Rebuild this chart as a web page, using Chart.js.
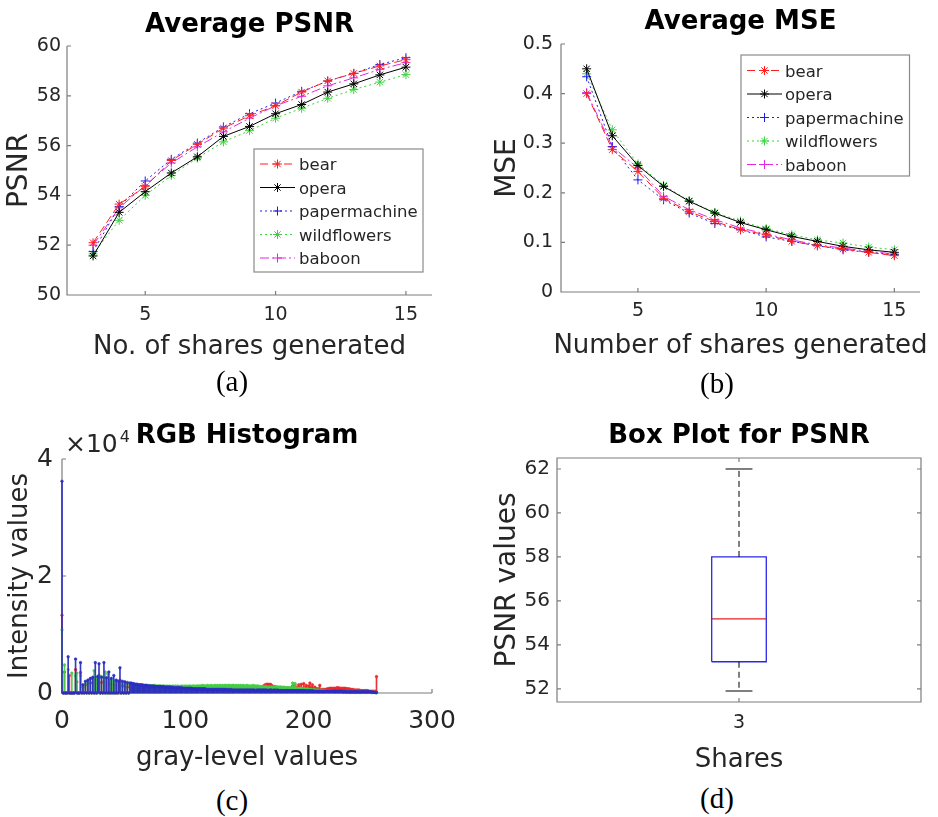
<!DOCTYPE html>
<html>
<head>
<meta charset="utf-8">
<script src="https://cdn.jsdelivr.net/npm/chart.js@4.4.1/dist/chart.umd.min.js"></script>
<style>
html,body{margin:0;padding:0;background:#fff;}
body{width:938px;height:817px;position:relative;overflow:hidden;}
canvas{position:absolute;}
.cap{position:absolute;font-family:'Liberation Serif','Times New Roman',serif;font-size:29px;color:#000;transform:translate(-50%,-50%);line-height:1;white-space:nowrap;}
</style>
</head>
<body>
<canvas id="chartA" width="469" height="372" style="left:0;top:0"></canvas>
<canvas id="chartB" width="469" height="372" style="left:469px;top:0"></canvas>
<canvas id="chartC" width="469" height="380" style="left:0;top:400px"></canvas>
<canvas id="chartD" width="469" height="380" style="left:469px;top:400px"></canvas>
<div class="cap" style="left:232px;top:381px">(a)</div>
<div class="cap" style="left:717px;top:383px">(b)</div>
<div class="cap" style="left:232px;top:800px">(c)</div>
<div class="cap" style="left:717px;top:798px">(d)</div>
<script>
// ---------------- data ----------------
const shares = [3, 4, 5, 6, 7, 8, 9, 10, 11, 12, 13, 14, 15];
const seriesNames = ['bear', 'opera', 'papermachine', 'wildflowers', 'baboon'];

const psnrBear    = [52.10, 53.65, 54.35, 55.40, 56.05, 56.70, 57.20, 57.60, 58.15, 58.60, 58.90, 59.20, 59.45];
const psnrOpera   = [51.57, 53.32, 54.15, 54.90, 55.55, 56.37, 56.77, 57.28, 57.65, 58.15, 58.48, 58.84, 59.15];
const psnrPaper   = [51.75, 53.55, 54.58, 55.45, 56.10, 56.75, 57.28, 57.71, 58.18, 58.59, 58.90, 59.26, 59.53];
const psnrWild    = [51.65, 53.00, 54.00, 54.80, 55.50, 56.15, 56.60, 57.10, 57.50, 57.90, 58.25, 58.55, 58.85];
const psnrBaboon  = [52.00, 53.50, 54.40, 55.30, 55.95, 56.55, 57.10, 57.60, 57.98, 58.40, 58.72, 59.06, 59.33];

const mseBear   = [0.400, 0.287, 0.243, 0.189, 0.162, 0.142, 0.1255, 0.1154, 0.102, 0.0933, 0.0866, 0.0799, 0.0732];
const mseOpera  = [0.450, 0.315, 0.255, 0.213, 0.183, 0.159, 0.140, 0.1255, 0.112, 0.102, 0.092, 0.085, 0.080];
const msePaper  = [0.434, 0.293, 0.226, 0.186, 0.159, 0.138, 0.1255, 0.111, 0.102, 0.0933, 0.085, 0.080, 0.075];
const mseWild   = [0.440, 0.327, 0.258, 0.215, 0.184, 0.160, 0.143, 0.1275, 0.1155, 0.105, 0.0987, 0.0906, 0.0852];
const mseBaboon = [0.402, 0.293, 0.250, 0.193, 0.166, 0.146, 0.129, 0.117, 0.105, 0.095, 0.0886, 0.082, 0.0765];

const psnrTicks = [50, 52, 54, 56, 58, 60];
const sharesTicks = [5, 10, 15];
const mseTicks = [0, 0.1, 0.2, 0.3, 0.4, 0.5];

// RGB histogram counts per gray level 0..255, in hundreds of pixels
const histRed = [
133,0,36,0,0,0,30,0,0,0,0,40,19,0,0,35,
0,10,0,14,0,16,0,17,0,18,0,22,0,17,30,0,
18,0,20,0,17,26,0,16,0,15,0,14,0,13,0,22,
0,12,0,11,0,10,0,10,9,9,9,9,9,9,9,9,
9,9,8,9,8,9,8,8,8,8,8,8,8,8,8,8,
8,8,8,8,8,8,8,8,8,8,8,8,8,8,8,8,
8,8,8,8,8,8,7,8,7,8,7,8,7,8,7,8,
7,7,8,7,7,8,7,7,8,7,7,8,7,7,8,7,
7,8,7,8,7,8,7,8,7,8,8,7,8,8,7,8,
8,8,8,8,8,8,8,8,8,8,8,8,8,8,8,9,
9,10,10,11,13,14,15,15,14,15,13,11,11,10,10,9,
9,9,9,8,8,8,8,8,8,8,8,12,8,14,8,10,
14,9,15,8,16,9,13,8,12,17,9,14,8,10,7,7,
7,13,6,6,6,6,6,7,7,8,8,8,8,8,8,9,
9,8,8,8,8,8,8,7,7,7,6,6,6,5,5,5,
5,5,4,4,4,4,4,4,4,3,3,3,3,3,3,28];
const histGreen = [
108,0,48,0,0,40,0,0,34,0,0,30,34,0,0,30,
0,12,0,16,0,20,0,24,0,26,38,0,27,0,30,0,
28,0,26,36,0,33,0,22,0,21,0,20,0,18,0,17,
0,16,0,15,0,14,0,14,14,13,13,13,13,13,12,13,
13,12,13,12,13,12,12,13,12,12,12,13,12,12,12,12,
12,11,12,12,11,12,11,12,11,11,12,11,12,11,12,11,
11,12,11,12,11,12,11,12,12,11,12,12,11,12,12,12,
12,12,13,12,12,12,13,12,12,13,12,12,13,12,13,12,
13,12,13,12,13,13,12,13,13,12,13,13,12,13,12,13,
12,13,12,13,12,12,13,12,12,12,12,13,12,12,12,12,
11,11,10,11,10,11,10,10,10,10,10,10,10,10,10,10,
10,10,10,9,10,9,9,9,9,9,9,17,9,16,8,8,
8,7,8,7,7,7,6,7,6,6,6,5,6,5,5,5,
5,4,5,4,4,4,3,3,3,3,3,3,2,2,2,2,
2,2,2,2,2,2,2,2,2,1,1,1,1,1,1,1,
1,1,1,1,1,1,1,1,1,1,1,1,1,1,1,0];
const histBlue = [
362,0,0,0,0,62,0,0,0,0,0,58,0,0,0,52,
0,14,0,20,0,22,0,25,0,27,0,52,0,28,50,0,
27,0,52,0,26,0,36,0,25,0,30,0,22,0,20,43,
0,20,0,19,0,18,0,17,17,16,16,15,15,15,14,14,
14,14,13,13,13,13,12,12,12,12,12,11,11,11,11,11,
11,11,11,10,10,10,10,10,10,10,9,9,9,9,9,9,
9,9,8,8,8,8,8,8,8,8,7,7,7,7,7,7,
7,7,7,7,7,6,6,6,6,6,6,6,6,6,6,6,
6,6,6,6,6,6,5,6,5,6,5,5,5,5,5,5,
5,5,5,5,5,5,5,5,5,5,5,5,5,4,5,5,
5,5,5,5,5,5,5,4,5,5,5,4,5,5,4,5,
4,4,4,4,4,4,4,4,4,4,4,4,4,4,4,4,
4,4,4,4,4,4,3,4,3,4,3,4,3,3,3,3,
3,3,3,3,3,3,3,3,3,3,3,3,3,3,3,3,
3,3,3,3,2,3,2,2,2,2,2,2,2,2,2,2,
2,2,2,2,2,2,2,2,2,2,2,2,1,1,1,1];
const histXTicks = [0, 100, 200, 300];
const histYTicks = [0, 2, 4];   // in units of 10^4

// Box plot of PSNR for 3 shares
const boxCategory = 3;
const boxTickLabels = ['3'];
const boxMin = 51.9, boxQ1 = 53.23, boxMedian = 55.18, boxQ3 = 58.0, boxMax = 62.0;
const boxYTicks = [52, 54, 56, 58, 60, 62];

// ---------------- styling helpers ----------------
const FONT = "'DejaVu Sans', 'Liberation Sans', sans-serif";
const TEXT = '#262626';
const AXIS = '#7d7d7d';
const TICKLEN = 4;
const RED = 'rgb(255,30,30)', BLACK = '#000000', BLUE = 'rgb(30,30,235)', GREEN = 'rgb(60,210,60)', MAGENTA = 'rgb(225,40,225)';
const lineStyles = [
  {color: RED, dash: [8, 4], point: 'star'},
  {color: BLACK, dash: [], point: 'star'},
  {color: BLUE, dash: [2, 3], point: 'cross'},
  {color: GREEN, dash: [2, 3], point: 'star'},
  {color: MAGENTA, dash: [9, 3, 2, 3], point: 'cross'}
];

function drawMarker(ctx, style, x, y, r) {
  ctx.beginPath();
  ctx.moveTo(x - r, y); ctx.lineTo(x + r, y);
  ctx.moveTo(x, y - r); ctx.lineTo(x, y + r);
  if (style === 'star') {
    const d = r * Math.SQRT1_2;
    ctx.moveTo(x - d, y - d); ctx.lineTo(x + d, y + d);
    ctx.moveTo(x - d, y + d); ctx.lineTo(x + d, y - d);
  }
  ctx.stroke();
}

function makeDecor(cfg) {
  return {
    id: 'decor',
    beforeDatasetsDraw(chart) {
      const {ctx, chartArea: a} = chart;
      const x = chart.scales.x, y = chart.scales.y;
      ctx.save();
      ctx.strokeStyle = AXIS; ctx.lineWidth = 1.2; ctx.setLineDash([]);
      ctx.beginPath();
      if (cfg.box) {
        ctx.rect(a.left, a.top, a.right - a.left, a.bottom - a.top);
      } else {
        ctx.moveTo(a.left, a.top); ctx.lineTo(a.left, a.bottom); ctx.lineTo(a.right, a.bottom);
      }
      x.ticks.forEach(t => {
        const p = x.getPixelForValue(t.value);
        ctx.moveTo(p, a.bottom); ctx.lineTo(p, a.bottom - TICKLEN);
        if (cfg.box) { ctx.moveTo(p, a.top); ctx.lineTo(p, a.top + TICKLEN); }
      });
      y.ticks.forEach(t => {
        const p = y.getPixelForValue(t.value);
        ctx.moveTo(a.left, p); ctx.lineTo(a.left + TICKLEN, p);
        if (cfg.box) { ctx.moveTo(a.right, p); ctx.lineTo(a.right - TICKLEN, p); }
      });
      ctx.stroke();
      ctx.restore();
    },
    afterDraw(chart) {
      const {ctx, chartArea: a} = chart;
      const cx = (a.left + a.right) / 2, cy = (a.top + a.bottom) / 2;
      ctx.save();
      ctx.textAlign = 'center'; ctx.textBaseline = 'alphabetic';
      ctx.fillStyle = '#000';
      ctx.font = `bold ${cfg.titleSize}px ${FONT}`;
      ctx.fillText(cfg.title, cx, cfg.titleY);
      ctx.fillStyle = TEXT;
      ctx.font = `${cfg.xLabelSize}px ${FONT}`;
      ctx.fillText(cfg.xLabel, cx, cfg.xLabelY);
      ctx.save();
      ctx.translate(cfg.yLabelX, cy);
      ctx.rotate(-Math.PI / 2);
      ctx.font = `${cfg.yLabelSize}px ${FONT}`;
      ctx.fillText(cfg.yLabel, 0, 0);
      ctx.restore();
      if (cfg.exponent) {
        const e = cfg.exponent;
        ctx.textAlign = 'left';
        ctx.font = `${e.size}px ${FONT}`;
        ctx.fillText('\u00d710', e.x, e.y);
        const w = ctx.measureText('\u00d710').width;
        ctx.font = `${e.supSize}px ${FONT}`;
        ctx.fillText('4', e.x + w + 2, e.supY);
      }
      if (cfg.legend) {
        const L = cfg.legend;
        ctx.fillStyle = '#ffffff';
        ctx.fillRect(L.x, L.y, L.w, L.h);
        ctx.strokeStyle = '#8a8a8a'; ctx.lineWidth = 1.2;
        ctx.strokeRect(L.x, L.y, L.w, L.h);
        chart.data.datasets.forEach((ds, i) => {
          const yy = L.firstY + i * L.step;
          ctx.strokeStyle = ds.borderColor; ctx.lineWidth = 1;
          ctx.setLineDash(ds.borderDash || []);
          ctx.beginPath(); ctx.moveTo(L.lineX0, yy); ctx.lineTo(L.lineX1, yy); ctx.stroke();
          ctx.setLineDash([]);
          drawMarker(ctx, ds.pointStyle, (L.lineX0 + L.lineX1) / 2, yy, ds.pointRadius);
          ctx.fillStyle = TEXT;
          ctx.textAlign = 'left';
          ctx.font = `${L.size}px ${FONT}`;
          ctx.fillText(ds.label, L.textX, yy + 6);
        });
      }
      ctx.restore();
    }
  };
}

function axis(cfg) {
  return {
    type: 'linear',
    min: cfg.min, max: cfg.max,
    offset: false,
    grid: {display: false, drawTicks: false},
    border: {display: false},
    afterBuildTicks: s => { s.ticks = cfg.ticks.map(v => ({value: v})); },
    afterFit: s => { if (cfg.width !== undefined) s.width = cfg.width; if (cfg.height !== undefined) s.height = cfg.height; },
    ticks: {
      font: {family: FONT, size: cfg.fontSize},
      color: TEXT,
      padding: cfg.padding,
      maxRotation: 0,
      autoSkip: false,
      callback: cfg.labels ? ((v, i) => cfg.labels[i]) : (v => String(v))
    }
  };
}

function baseOptions(pad, xAxis, yAxis) {
  return {
    responsive: false,
    animation: false,
    devicePixelRatio: 1,
    events: [],
    layout: {padding: pad},
    plugins: {legend: {display: false}, tooltip: {enabled: false}, title: {display: false}},
    scales: {x: xAxis, y: yAxis}
  };
}

function lineSeries(values) {
  return values.map((vals, k) => ({
    label: seriesNames[k],
    data: shares.map((s, i) => ({x: s, y: vals[i]})),
    borderColor: lineStyles[k].color,
    backgroundColor: lineStyles[k].color,
    borderWidth: 1,
    borderDash: lineStyles[k].dash,
    pointStyle: lineStyles[k].point,
    pointRadius: 4.5,
    pointHoverRadius: 4.5,
    pointBorderWidth: 1,
    pointBorderColor: lineStyles[k].color,
    tension: 0,
    fill: false
  }));
}

// ---------------- (a) Average PSNR ----------------
new Chart(document.getElementById('chartA'), {
  type: 'line',
  data: {datasets: lineSeries([psnrBear, psnrOpera, psnrPaper, psnrWild, psnrBaboon])},
  options: baseOptions({left: 0, top: 46, right: 37, bottom: 0},
    axis({min: 2, max: 16, ticks: sharesTicks, fontSize: 19, padding: 9, height: 77}),
    axis({min: 50, max: 60, ticks: psnrTicks, fontSize: 19, padding: 6, width: 67})),
  plugins: [makeDecor({
    title: 'Average PSNR', titleSize: 26, titleY: 32,
    xLabel: 'No. of shares generated', xLabelSize: 26, xLabelY: 354,
    yLabel: 'PSNR', yLabelSize: 28, yLabelX: 27,
    legend: {x: 254, y: 149, w: 169, h: 123, firstY: 164, step: 23.5, lineX0: 260, lineX1: 295, textX: 299, size: 16.5}
  })]
});

// ---------------- (b) Average MSE ----------------
new Chart(document.getElementById('chartB'), {
  type: 'line',
  data: {datasets: lineSeries([mseBear, mseOpera, msePaper, mseWild, mseBaboon])},
  options: baseOptions({left: 0, top: 44, right: 18, bottom: 0},
    axis({min: 2, max: 16, ticks: sharesTicks, fontSize: 19, padding: 8, height: 80}),
    axis({min: 0, max: 0.5, ticks: mseTicks, fontSize: 19, padding: 8, width: 92})),
  plugins: [makeDecor({
    title: 'Average MSE', titleSize: 26, titleY: 29,
    xLabel: 'Number of shares generated', xLabelSize: 26, xLabelY: 353,
    yLabel: 'MSE', yLabelSize: 28, yLabelX: 46,
    legend: {x: 272, y: 55, w: 168.5, h: 121, firstY: 70.5, step: 23.5, lineX0: 278, lineX1: 313, textX: 316, size: 16.5}
  })]
});

// ---------------- (c) RGB Histogram ----------------
function stems(counts, color, order) {
  return {
    type: 'bar',
    data: counts.map((v, i) => ({x: i, y: v / 100})),
    backgroundColor: color,
    borderWidth: 0,
    barThickness: 1,
    grouped: false,
    clip: false,
    order: order
  };
}
function stemMarkers(counts, color, order) {
  return {
    type: 'line',
    data: counts.map((v, i) => ({x: i, y: v / 100})),
    showLine: false,
    pointRadius: 1.3,
    pointBorderWidth: 0.6,
    pointBackgroundColor: color,
    pointBorderColor: color,
    clip: false,
    order: order
  };
}
new Chart(document.getElementById('chartC'), {
  type: 'bar',
  data: {datasets: [
    stems(histRed, 'rgba(235,40,40,0.95)', 5),
    stemMarkers(histRed, 'rgba(235,40,40,0.95)', 4),
    stems(histGreen, 'rgba(70,205,70,0.95)', 3),
    stemMarkers(histGreen, 'rgba(70,205,70,0.95)', 2),
    stems(histBlue, 'rgba(45,45,195,0.95)', 1),
    stemMarkers(histBlue, 'rgba(45,45,195,0.95)', 0)
  ]},
  options: baseOptions({left: 0, top: 59, right: 37, bottom: 0},
    axis({min: 0, max: 300, ticks: histXTicks, fontSize: 25, padding: 13, height: 87}),
    axis({min: 0, max: 4, ticks: histYTicks, fontSize: 25, padding: 9, width: 62})),
  plugins: [makeDecor({
    title: 'RGB Histogram', titleSize: 26, titleY: 43,
    xLabel: 'gray-level values', xLabelSize: 26, xLabelY: 365,
    yLabel: 'Intensity values', yLabelSize: 26, yLabelX: 27,
    exponent: {x: 65, y: 52, size: 25, supSize: 16, supY: 42}
  })]
});

// ---------------- (d) Box Plot for PSNR ----------------
const boxHalf = 0.075, capHalf = 0.037;
function seg(points, color, dash, width) {
  return {
    data: points,
    borderColor: color,
    borderWidth: width,
    borderDash: dash,
    pointRadius: 0,
    pointHoverRadius: 0,
    tension: 0,
    fill: false
  };
}
new Chart(document.getElementById('chartD'), {
  type: 'line',
  data: {datasets: [
    seg([{x: boxCategory, y: boxQ3}, {x: boxCategory, y: boxMax}], '#000', [6, 4], 1),
    seg([{x: boxCategory, y: boxQ1}, {x: boxCategory, y: boxMin}], '#000', [6, 4], 1),
    seg([{x: boxCategory - capHalf, y: boxMax}, {x: boxCategory + capHalf, y: boxMax}], '#000', [], 1),
    seg([{x: boxCategory - capHalf, y: boxMin}, {x: boxCategory + capHalf, y: boxMin}], '#000', [], 1),
    seg([{x: boxCategory - boxHalf, y: boxQ1}, {x: boxCategory + boxHalf, y: boxQ1},
         {x: boxCategory + boxHalf, y: boxQ3}, {x: boxCategory - boxHalf, y: boxQ3},
         {x: boxCategory - boxHalf, y: boxQ1}], 'rgb(40,40,230)', [], 1.3),
    seg([{x: boxCategory - boxHalf, y: boxMedian}, {x: boxCategory + boxHalf, y: boxMedian}], 'rgb(235,30,30)', [], 1.2)
  ]},
  options: baseOptions({left: 0, top: 58, right: 17, bottom: 0},
    axis({min: 2.5, max: 3.5, ticks: [boxCategory], labels: boxTickLabels, fontSize: 19, padding: 10, height: 78}),
    axis({min: 51.4, max: 62.5, ticks: boxYTicks, fontSize: 20, padding: 7, width: 88})),
  plugins: [makeDecor({
    box: true,
    title: 'Box Plot for PSNR', titleSize: 26, titleY: 43,
    xLabel: 'Shares', xLabelSize: 26, xLabelY: 367,
    yLabel: 'PSNR values', yLabelSize: 28, yLabelX: 46
  })]
});
</script>
</body>
</html>
